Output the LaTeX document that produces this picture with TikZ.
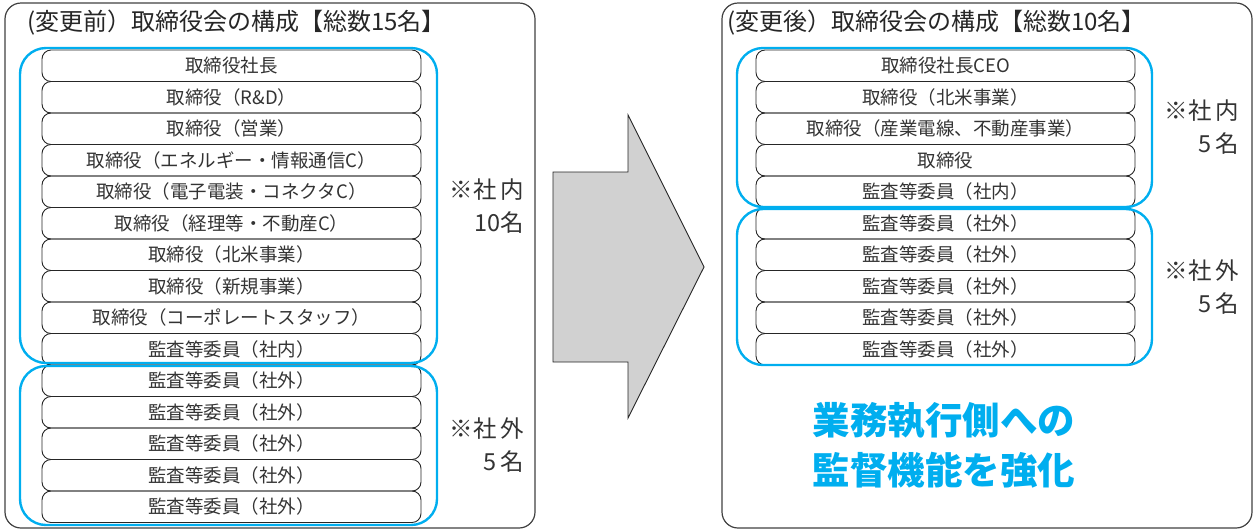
\documentclass[tikz,border=0pt]{standalone}
\usepackage{fontspec}
\setmainfont{Noto Sans CJK JP}
\begin{document}
\begin{tikzpicture}[x=1pt,y=-1pt,
  outerbox/.style={draw=black!75,line width=1.2pt,rounded corners=16pt},
  rowbox/.style={draw=black!85,line width=0.9pt,rounded corners=9pt,minimum width=379pt,minimum height=31.5pt,inner sep=0pt,font=\fontsize{18.5}{20}\selectfont,text=black!80},
  bluebox/.style={draw=cyanblue,line width=2.4pt,rounded corners=26pt},
  sidelabel/.style={align=right,anchor=center,inner sep=0pt,font=\fontsize{23.5}{32.5}\selectfont,text=black!80},
  titletext/.style={anchor=west,inner sep=0pt,font=\fontsize{24}{26}\selectfont,text=black!85},
  bigtext/.style={anchor=center,align=left,inner sep=0pt,font=\fontsize{37.5}{50}\selectfont\bfseries,text=cyanblue}]
\definecolor{cyanblue}{HTML}{00AEEF}
\useasboundingbox (0,0) rectangle (1255,531);
% outer frames
\draw[outerbox] (5,3) rectangle (535,528);
\draw[outerbox] (722,3) rectangle (1252,528);
% titles
\node[titletext] (tl) at (27,23) {(変更前）取締役会の構成【総数15名】};
\node[titletext] (tr) at (727,23) {(変更後）取締役会の構成【総数10名】};
% left rows
\foreach \i/\t in {1/取締役社長,2/取締役（R\&D）,3/取締役（営業）,4/取締役（エネルギー・情報通信C）,5/取締役（電子電装・コネクタC）,6/取締役（経理等・不動産C）,7/取締役（北米事業）,8/取締役（新規事業）,9/取締役（コーポレートスタッフ）,10/監査等委員（社内）,11/監査等委員（社外）,12/監査等委員（社外）,13/監査等委員（社外）,14/監査等委員（社外）,15/監査等委員（社外）}
  \node[rowbox] (L\i) at (231.5,{50+31.5*(\i-0.5)}) {\t};
% right rows
\foreach \i/\t in {1/取締役社長CEO,2/取締役（北米事業）,3/取締役（産業電線、不動産事業）,4/取締役,5/監査等委員（社内）,6/監査等委員（社外）,7/監査等委員（社外）,8/監査等委員（社外）,9/監査等委員（社外）,10/監査等委員（社外）}
  \node[rowbox] (R\i) at (945.5,{50+31.5*(\i-0.5)}) {\t};
% blue groups
\draw[bluebox] (20,48) rectangle (437,363);
\draw[bluebox] (20,366) rectangle (437,525);
\draw[bluebox] (737,48) rectangle (1152,207);
\draw[bluebox] (737,209) rectangle (1152,365);
% side labels
\node[sidelabel] (ln1) at (487,206) {※社\,内\\10名};
\node[sidelabel] (ln2) at (487,445) {※社\,外\\5\,名};
\node[sidelabel] (rn1) at (1202,127) {※社\,内\\5\,名};
\node[sidelabel] (rn2) at (1202,287) {※社\,外\\5\,名};
% arrow
\draw[fill=black!18,draw=black!85,line width=0.9pt,line join=miter]
  (553,172) -- (628,172) -- (628,115) -- (704,267) -- (628,418) -- (628,362) -- (553,362) -- cycle;
% big text
\node[bigtext] (bt) at (944,445) {業務執行側への\\監督機能を強化};
\end{tikzpicture}
\end{document}
